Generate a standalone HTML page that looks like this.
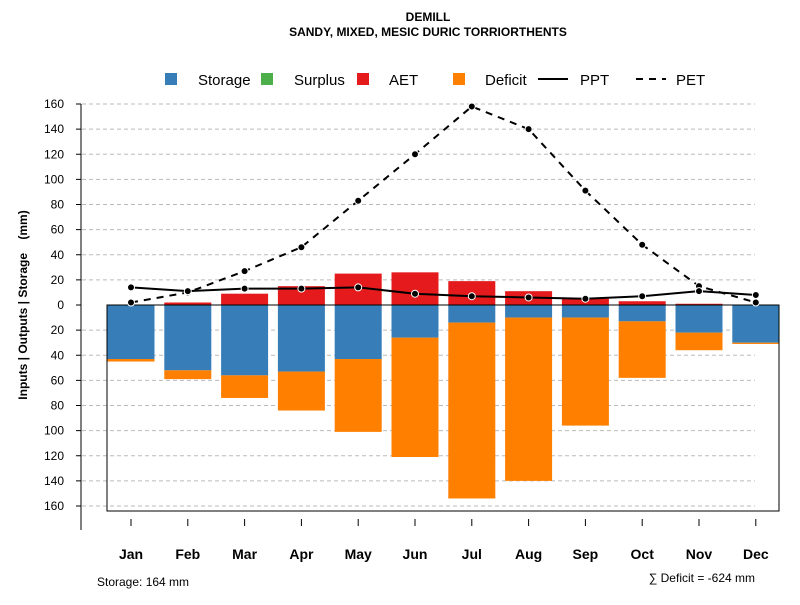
<!DOCTYPE html>
<html><head><meta charset="utf-8"><style>
body{margin:0;background:#fff}
svg{font-family:"Liberation Sans",Arial,sans-serif}
</style></head><body>
<svg width="800" height="600" viewBox="0 0 800 600">
<rect width="800" height="600" fill="#fff"/>
<text x="428" y="21" text-anchor="middle" font-size="12" font-weight="bold">DEMILL</text>
<text x="428" y="36" text-anchor="middle" font-size="12" font-weight="bold">SANDY, MIXED, MESIC DURIC TORRIORTHENTS</text>
<g id="legend">
<rect x="165" y="73" width="12" height="12" fill="#377eb8"/>
<text x="198" y="85" font-size="15">Storage</text>
<rect x="261" y="73" width="12" height="12" fill="#4daf4a"/>
<text x="294" y="85" font-size="15">Surplus</text>
<rect x="357" y="73" width="12" height="12" fill="#e41a1c"/>
<text x="389" y="85" font-size="15">AET</text>
<rect x="453" y="73" width="12" height="12" fill="#ff7f00"/>
<text x="485" y="85" font-size="15">Deficit</text>
<line x1="538" y1="79" x2="568" y2="79" stroke="#000" stroke-width="2"/>
<text x="580" y="85" font-size="15">PPT</text>
<line x1="636" y1="79" x2="666" y2="79" stroke="#000" stroke-width="2" stroke-dasharray="7,6"/>
<text x="676" y="85" font-size="15">PET</text>
</g>
<text transform="translate(27,305) rotate(-90)" text-anchor="middle" font-size="12" font-weight="bold" style="white-space:pre">Inputs | Outputs | Storage    (mm)</text>
<g id="grid"></g><g id="bars"></g><g id="axes"></g><g id="lines"></g>
<text x="97" y="586" font-size="12">Storage: 164 mm</text>
<text x="755" y="582" text-anchor="end" font-size="12">∑ Deficit = -624 mm</text>
</svg>
<script>
const months=["Jan","Feb","Mar","Apr","May","Jun","Jul","Aug","Sep","Oct","Nov","Dec"];
const storage=[43,52,56,53,43,26,14,10,10,13,22,30];
const deficit=[2,7,18,31,58,95,140,130,86,45,14,1];
const aet=[0,2,9,15,25,26,19,11,5,3,1,0];
const surplus=[0,0,0,0,0,0,0,0,0,0,0,0];
const ppt=[14,11,13,13,14,9,7,6,5,7,11,8];
const pet=[2,10,27,46,83,120,158,140,91,48,15,2];
const yTicks=[160,140,120,100,80,60,40,20,0,-20,-40,-60,-80,-100,-120,-140,-160];
const NS="http://www.w3.org/2000/svg";
function y(v){return 305-v*201/160;}
function x(i){return 131+i*56.8;}
function mk(tag,attrs,parent){const e=document.createElementNS(NS,tag);for(const k in attrs)e.setAttribute(k,attrs[k]);document.getElementById(parent).appendChild(e);return e;}
yTicks.forEach(t=>{
 if(t!==0){const g=mk('line',{x1:82,x2:755,y1:y(t),y2:y(t),stroke:'#bbb','stroke-dasharray':'4,3'},'grid');
 
 }
 const tk=mk('line',{x1:76,x2:81,y1:y(t),y2:y(t),stroke:'#000'},'axes');
 
 
 const tl=mk('text',{x:64,y:y(t)+4,'text-anchor':'end','font-size':12},'axes');tl.textContent=Math.abs(t);
 
 
});
const ya=mk('line',{x1:81,x2:81,y1:y(160),y2:530,stroke:'#000'},'axes');


const bw=47;
months.forEach((m,i)=>{
 const cx=x(i);
 const b1=mk('rect',{x:cx-bw/2,y:y(0),width:bw,height:y(-storage[i])-y(0),fill:'#377eb8'},'bars');
 
 
 const b2=mk('rect',{x:cx-bw/2,y:y(-storage[i]),width:bw,height:y(-storage[i]-deficit[i])-y(-storage[i]),fill:'#ff7f00'},'bars');
 
 
 const b3=mk('rect',{x:cx-bw/2,y:y(aet[i]),width:bw,height:y(0)-y(aet[i]),fill:'#e41a1c'},'bars');
 
 
 const b4=mk('rect',{x:cx-bw/2,y:y(aet[i]+surplus[i]),width:bw,height:y(aet[i])-y(aet[i]+surplus[i]),fill:'#4daf4a'},'bars');
 
 
 const xt=mk('line',{x1:cx,x2:cx,y1:519,y2:526,stroke:'#000'},'axes');
 
 
 const xl=mk('text',{x:cx,y:559,'text-anchor':'middle','font-size':14,'font-weight':'bold'},'axes');xl.textContent=m;
 
 
});
const box=mk('path',{d:`M107,${y(0)} H779 V511 H107 Z`,fill:'none',stroke:'#000'},'axes');


const xa=mk('line',{x1:131,x2:756,y1:519,y2:519,stroke:'none'},'axes');


function series(arr,dash,name){
 const p=mk('polyline',{points:arr.map((v,i)=>x(i)+','+y(v)).join(' '),fill:'none',stroke:'#000','stroke-width':2,'stroke-dasharray':dash},'lines');
 
 
 arr.forEach((v,i)=>{const c=mk('circle',{cx:x(i),cy:y(v),r:3.5,fill:'#000',stroke:'#fff','stroke-width':1},'lines');
 
 });
}
series(pet,'7,6','pet');
series(ppt,'none','ppt');
</script>
</body></html>
